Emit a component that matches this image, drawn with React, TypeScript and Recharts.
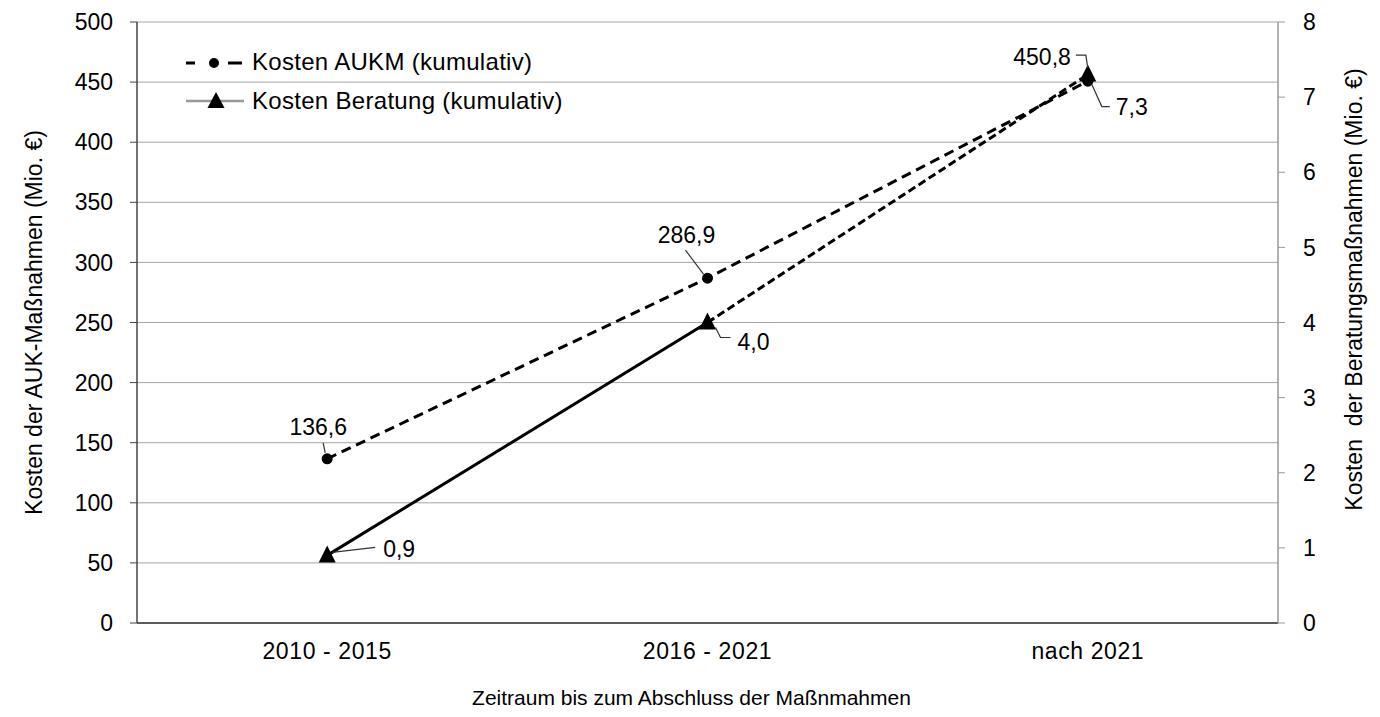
import { CartesianGrid, Label, LabelList, Line, LineChart, XAxis, YAxis } from "recharts";

const periods = ["2010 - 2015", "2016 - 2021", "nach 2021"];
const aukmCosts = [136.6, 286.9, 450.8];
const beratungCosts = [0.9, 4.0, 7.3];
const leftTicks = [0, 50, 100, 150, 200, 250, 300, 350, 400, 450, 500];
const rightTicks = [0, 1, 2, 3, 4, 5, 6, 7, 8];
const edgeTicks = [0, 1, 2, 3];
// Beratung line is solid up to this index, dashed afterwards
const SOLID_UNTIL = 1;

const rows = periods.map((period, i) => ({
  period,
  aukm: aukmCosts[i],
  beratung: beratungCosts[i],
  beratungSolid: i <= SOLID_UNTIL ? beratungCosts[i] : null,
  beratungDashed: i >= SOLID_UNTIL ? beratungCosts[i] : null,
}));

const FONT = "'Liberation Sans', Arial, sans-serif";
const FS = 23;

const fmt = (v: number) => v.toFixed(1).replace(".", ",");

type Callout = {
  text: [number, number];
  anchor: "start" | "middle" | "end";
  leader: [number, number][];
};

// offsets of value label + leader line, relative to the point
const aukmCallouts: Callout[] = [
  { text: [-9, -24], anchor: "middle", leader: [[-4, -16], [-2, -6]] },
  { text: [-21, -35], anchor: "middle", leader: [[-22, -28], [-4, -4]] },
  { text: [-17, -16], anchor: "end", leader: [[-12, -26], [-2, -26], [0, -13]] },
];
const beratungCallouts: Callout[] = [
  { text: [56, 2], anchor: "start", leader: [[5, -3], [48, -8]] },
  { text: [30, 27], anchor: "start", leader: [[8, 5], [13, 15], [23, 15]] },
  { text: [28, 40], anchor: "start", leader: [[4, 10], [14, 32], [22, 32]] },
];

const calloutContent = (callouts: Callout[]) => (props: any) => {
  const { x, y, value, index } = props;
  const c = callouts[index];
  if (!c || x == null || y == null || value == null) return null;
  const pts = c.leader.map(([dx, dy]) => `${x + dx},${y + dy}`).join(" ");
  return (
    <g>
      <polyline points={pts} fill="none" stroke="#333" strokeWidth={1.2} />
      <text
        x={x + c.text[0]}
        y={y + c.text[1]}
        textAnchor={c.anchor}
        fontSize={FS}
        fill="#000"
      >
        {fmt(Number(value))}
      </text>
    </g>
  );
};

const CircleDot = (props: any) => {
  const { cx, cy } = props;
  if (cx == null || cy == null) return null;
  return <circle cx={cx} cy={cy} r={5.5} fill="#000" />;
};

const TriangleDot = (props: any) => {
  const { cx, cy } = props;
  if (cx == null || cy == null) return null;
  return (
    <polygon
      points={`${cx},${cy - 10} ${cx - 8.5},${cy + 7} ${cx + 8.5},${cy + 7}`}
      fill="#000"
    />
  );
};

const ChartLegend = () => (
  <svg
    width={440}
    height={80}
    style={{ position: "absolute", left: 170, top: 30, pointerEvents: "none" }}
  >
    <g transform="translate(-170,-30)">
      <line x1={178} y1={55} x2={187} y2={55} stroke="#000" strokeWidth={3} />
      <circle cx={206} cy={55} r={5} fill="#000" />
      <line x1={220} y1={55} x2={234} y2={55} stroke="#000" strokeWidth={3} />
      <text x={244} y={62} fontSize={24} letterSpacing={0.3} fill="#000" fontFamily={FONT}>
        Kosten AUKM (kumulativ)
      </text>
      <line x1={178} y1={93} x2={236} y2={93} stroke="#999" strokeWidth={2.5} />
      <polygon points="208,84 199.5,100 216.5,100" fill="#000" />
      <text x={244} y={101} fontSize={24} letterSpacing={0.3} fill="#000" fontFamily={FONT}>
        Kosten Beratung (kumulativ)
      </text>
    </g>
  </svg>
);

const App = () => (
  <div style={{ position: "relative", width: 1364, height: 705, fontFamily: FONT }}>
    <LineChart
      width={1364}
      height={705}
      data={rows}
      margin={{ top: 14, right: 0, bottom: 0, left: 0 }}
      style={{ fontFamily: FONT }}
    >
      <CartesianGrid vertical={false} stroke="#a6a6a6" yAxisId="left" />
      <XAxis
        xAxisId="edges"
        type="number"
        domain={[0, 3]}
        ticks={edgeTicks}
        height={0}
        tick={false}
        tickSize={7}
        axisLine={false}
        tickLine={{ stroke: "#333" }}
      />
      <XAxis
        dataKey="period"
        scale="band"
        height={90}
        tickLine={false}
        tickMargin={14}
        axisLine={{ stroke: "#333", strokeWidth: 1.5 }}
        tick={{ fill: "#000", fontSize: FS, letterSpacing: 0.6 }}
      >
        <Label
          value="Zeitraum bis zum Abschluss der Maßnmahmen"
          position="center"
          dx={-16}
          dy={30}
          style={{ fill: "#000", fontSize: 21 }}
        />
      </XAxis>
      <YAxis
        yAxisId="left"
        domain={[0, 500]}
        ticks={leftTicks}
        width={129}
        tickSize={7}
        tickMargin={17}
        axisLine={{ stroke: "#444", strokeWidth: 1.5 }}
        tickLine={{ stroke: "#444" }}
        tick={{ fill: "#000", fontSize: FS }}
      >
        <Label
          value="Kosten der AUK-Maßnahmen (Mio. €)"
          angle={-90}
          position="center"
          dx={-39}
          style={{ fill: "#000", fontSize: FS }}
        />
      </YAxis>
      <YAxis
        yAxisId="right"
        orientation="right"
        domain={[0, 8]}
        ticks={rightTicks}
        width={94}
        tickSize={7}
        tickMargin={18}
        axisLine={{ stroke: "#999", strokeWidth: 1.5 }}
        tickLine={{ stroke: "#999" }}
        tick={{ fill: "#000", fontSize: FS }}
      >
        <Label
          value={"Kosten\u00a0 der Beratungsmaßnahmen (Mio. €)"}
          angle={-90}
          position="center"
          dx={29}
          dy={-33}
          style={{ fill: "#000", fontSize: FS }}
        />
      </YAxis>
      <Line
        yAxisId="left"
        dataKey="aukm"
        stroke="#000"
        strokeWidth={3}
        strokeDasharray="10 6"
        dot={<CircleDot />}
        activeDot={false}
        isAnimationActive={false}
      >
        <LabelList dataKey="aukm" content={calloutContent(aukmCallouts)} />
      </Line>
      <Line
        yAxisId="right"
        dataKey="beratungSolid"
        stroke="#000"
        strokeWidth={3}
        dot={false}
        activeDot={false}
        isAnimationActive={false}
      />
      <Line
        yAxisId="right"
        dataKey="beratungDashed"
        stroke="#000"
        strokeWidth={3}
        strokeDasharray="8 4"
        dot={false}
        activeDot={false}
        isAnimationActive={false}
      />
      <Line
        yAxisId="right"
        dataKey="beratung"
        stroke="none"
        dot={<TriangleDot />}
        activeDot={false}
        isAnimationActive={false}
      >
        <LabelList dataKey="beratung" content={calloutContent(beratungCallouts)} />
      </Line>
    </LineChart>
    <ChartLegend />
  </div>
);

export default App;
